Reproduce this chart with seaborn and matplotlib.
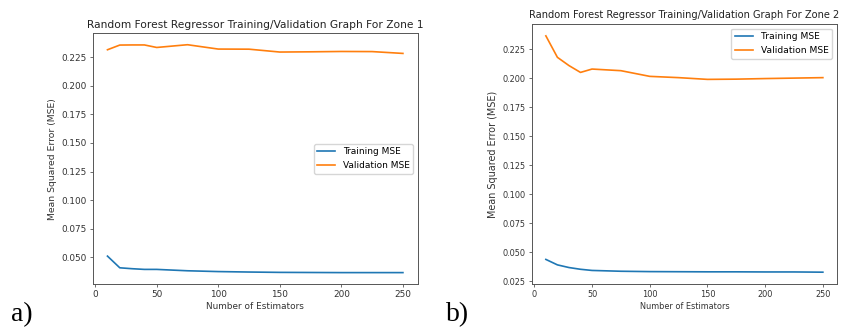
import pandas as pd
import matplotlib.pyplot as plt
import seaborn as sns

# number of estimators tried
estimators = [10, 20, 30, 40, 50, 75, 100, 125, 150, 175, 200, 225, 250]

# zone 1 MSE
z1_train = [0.0512, 0.0410, 0.0402, 0.0396, 0.0396, 0.0384, 0.0377, 0.0373, 0.0370, 0.0369, 0.0368, 0.0368, 0.0368]
z1_val = [0.2314, 0.2355, 0.2356, 0.2356, 0.2334, 0.2358, 0.2320, 0.2319, 0.2294, 0.2296, 0.2299, 0.2298, 0.2282]

# zone 2 MSE
z2_train = [0.0440, 0.0393, 0.0370, 0.0355, 0.0345, 0.0338, 0.0335, 0.0334, 0.0333, 0.0333, 0.0332, 0.0332, 0.0330]
z2_val = [0.2366, 0.2181, 0.2110, 0.2051, 0.2080, 0.2066, 0.2017, 0.2006, 0.1991, 0.1993, 0.1998, 0.2002, 0.2006]

titles = ["Random Forest Regressor Training/Validation Graph For Zone 1",
          "Random Forest Regressor Training/Validation Graph For Zone 2"]
panel_tags = ["a)", "b)"]

plt.rcParams["axes.linewidth"] = 0.7
plt.rcParams["xtick.major.width"] = 0.6
plt.rcParams["ytick.major.width"] = 0.6
plt.rcParams["xtick.major.size"] = 2.5
plt.rcParams["ytick.major.size"] = 2.5

fig = plt.figure(figsize=(8.45, 3.27), dpi=100)
ax1 = fig.add_axes([0.1097, 0.1315, 0.3846, 0.7666])
ax2 = fig.add_axes([0.6296, 0.1315, 0.3606, 0.7950])

blue, orange = sns.color_palette("tab10")[:2]

# (axes, train, val, title, legend loc, tick size, ylabel size, legend size)
panels = [(ax1, z1_train, z1_val, titles[0], "center right", 6.4, 6.7, 6.5),
          (ax2, z2_train, z2_val, titles[1], "upper right", 5.9, 6.9, 6.6)]

#Plot both zones
for ax, tr, va, title, loc, fs, yfs, lfs in panels:
    df = pd.DataFrame({"n": estimators, "train": tr, "val": va})
    sns.lineplot(data=df, x="n", y="train", ax=ax, color=blue, lw=1.2, label="Training MSE")
    sns.lineplot(data=df, x="n", y="val", ax=ax, color=orange, lw=1.2, label="Validation MSE")
    ax.set_xticks([0, 50, 100, 150, 200, 250])
    ax.set_title(title, fontsize=fs * 1.2, pad=4, color="#222222")
    ax.set_xlabel("Number of Estimators", fontsize=fs, labelpad=2, color="#333333")
    ax.set_ylabel("Mean Squared Error (MSE)", fontsize=yfs, labelpad=3, color="#333333")
    ax.tick_params(labelsize=fs, pad=2, labelcolor="#333333", color="#555555")
    for s in ax.spines.values():
        s.set_color("#555555")
    ax.legend(loc=loc, fontsize=lfs, handlelength=2.0)

ax2.set_yticks([0.025, 0.05, 0.075, 0.1, 0.125, 0.15, 0.175, 0.2, 0.225])

fig.text(11 / 845, 1 - 321 / 327, panel_tags[0], family="Liberation Serif", fontsize=20)
fig.text(446 / 845, 1 - 321 / 327, panel_tags[1], family="Liberation Serif", fontsize=20)

fig.savefig("out.png", dpi=100)
